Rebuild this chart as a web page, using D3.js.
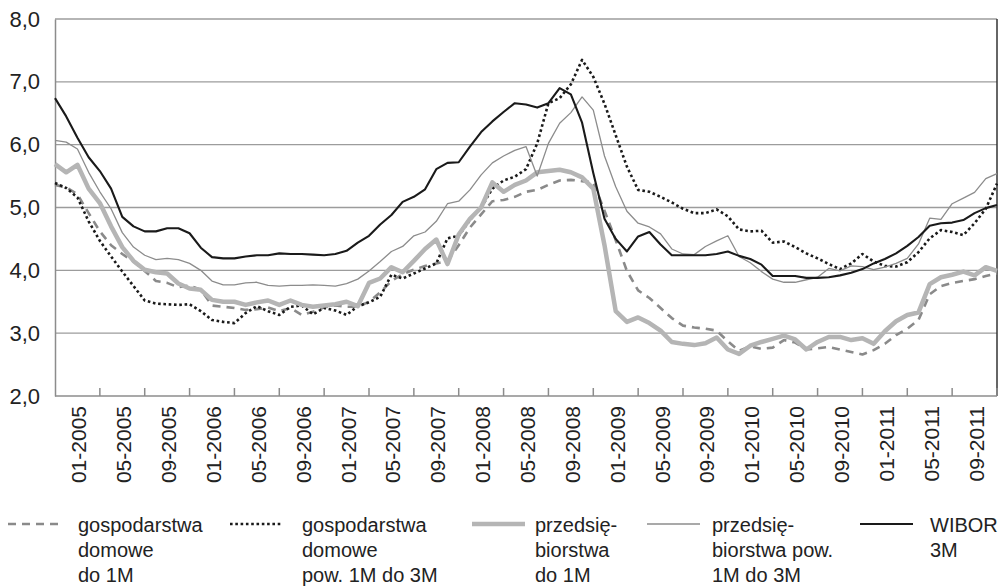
<!DOCTYPE html>
<html>
<head>
<meta charset="utf-8">
<script src="https://cdn.jsdelivr.net/npm/d3@7/dist/d3.min.js"></script>
<style>
  html, body { margin: 0; padding: 0; background: #fff; }
  svg { display: block; }
  text { font-family: "Liberation Sans", Arial, sans-serif; fill: #222; }
</style>
</head>
<body>
<svg id="chart" width="1000" height="586"></svg>
<script>
// Monthly interest rates, 11-2004 .. 11-2011 (%)
const months = [];
for (let i = 0; i < 85; i++) {
  const m = (10 + i) % 12 + 1, yr = 2004 + Math.floor((10 + i) / 12);
  months.push((m < 10 ? "0" : "") + m + "-" + yr);
}

// gospodarstwa domowe do 1M
const hhTo1M = [5.36,5.32,5.21,4.91,4.62,4.40,4.26,4.14,3.99,3.83,3.80,3.73,3.76,3.69,3.44,3.42,3.40,3.37,3.38,3.41,
  3.35,3.40,3.29,3.34,3.41,3.44,3.42,3.42,3.50,3.65,3.83,3.94,4.01,4.07,4.11,4.15,4.40,4.68,4.89,5.10,
  5.12,5.17,5.25,5.28,5.36,5.43,5.44,5.42,5.40,4.95,4.48,3.99,3.68,3.56,3.40,3.24,3.12,3.09,3.07,3.04,
  2.87,2.72,2.79,2.75,2.77,2.89,2.85,2.74,2.76,2.78,2.74,2.70,2.66,2.73,2.83,2.97,3.07,3.21,3.62,3.75,
  3.80,3.83,3.86,3.91,3.95];

// gospodarstwa domowe pow. 1M do 3M
const hh1to3M = [5.39,5.31,5.16,4.78,4.47,4.22,3.98,3.75,3.52,3.47,3.46,3.45,3.46,3.35,3.21,3.18,3.16,3.32,3.43,3.35,
  3.29,3.42,3.44,3.30,3.40,3.36,3.29,3.43,3.49,3.58,3.93,3.87,3.95,4.03,4.11,4.51,4.55,4.80,5.00,5.30,
  5.43,5.49,5.61,6.02,6.66,6.74,6.96,7.35,7.08,6.65,6.15,5.65,5.28,5.25,5.17,5.08,4.98,4.91,4.91,4.97,
  4.86,4.65,4.62,4.63,4.44,4.46,4.37,4.27,4.19,4.10,4.02,4.11,4.26,4.14,4.07,4.06,4.13,4.29,4.51,4.64,
  4.61,4.56,4.75,4.98,5.38];

// przedsiębiorstwa do 1M
const corpTo1M = [5.69,5.56,5.68,5.30,5.07,4.70,4.37,4.15,4.01,3.97,3.95,3.79,3.71,3.69,3.53,3.50,3.50,3.45,3.49,3.52,
  3.45,3.52,3.45,3.42,3.44,3.46,3.50,3.43,3.80,3.87,4.05,3.97,4.15,4.34,4.49,4.10,4.57,4.82,5.00,5.40,
  5.25,5.36,5.43,5.56,5.58,5.60,5.56,5.48,5.30,4.40,3.35,3.18,3.25,3.16,3.04,2.86,2.83,2.81,2.84,2.93,
  2.74,2.67,2.80,2.86,2.91,2.96,2.90,2.74,2.86,2.94,2.94,2.89,2.92,2.83,3.03,3.19,3.29,3.33,3.78,3.89,
  3.93,3.98,3.92,4.05,3.99];

// przedsiębiorstwa pow. 1M do 3M
const corp1to3M = [6.07,6.04,5.93,5.56,5.25,4.98,4.60,4.37,4.24,4.17,4.19,4.17,4.11,4.00,3.83,3.77,3.77,3.80,3.81,3.76,
  3.75,3.76,3.76,3.77,3.76,3.75,3.79,3.86,3.99,4.14,4.30,4.38,4.55,4.61,4.78,5.06,5.10,5.28,5.52,5.71,
  5.82,5.91,5.97,5.50,6.02,6.34,6.51,6.76,6.55,5.82,5.33,4.94,4.75,4.69,4.58,4.34,4.26,4.25,4.38,4.47,
  4.55,4.22,4.12,3.98,3.86,3.81,3.81,3.85,3.89,4.03,3.99,4.07,4.06,4.01,4.05,4.11,4.19,4.42,4.83,4.81,
  5.06,5.15,5.24,5.46,5.54];

// WIBOR 3M
const wibor3M = [6.74,6.45,6.11,5.80,5.58,5.30,4.85,4.70,4.62,4.62,4.67,4.67,4.59,4.36,4.21,4.19,4.19,4.22,4.24,4.24,
  4.27,4.26,4.26,4.25,4.24,4.26,4.31,4.44,4.55,4.73,4.88,5.09,5.17,5.29,5.61,5.71,5.72,5.97,6.20,6.37,
  6.52,6.66,6.64,6.59,6.66,6.90,6.80,6.35,5.55,4.82,4.50,4.30,4.54,4.61,4.41,4.24,4.24,4.24,4.24,4.26,
  4.30,4.23,4.18,4.09,3.91,3.91,3.91,3.88,3.88,3.89,3.92,3.96,4.02,4.11,4.18,4.27,4.39,4.53,4.71,4.75,
  4.76,4.80,4.91,4.99,5.04];

const yTicks = [2, 3, 4, 5, 6, 7, 8];
const labelEvery = 4;

const series = [
  { name: ["gospodarstwa", "domowe", "do 1M"], values: hhTo1M,
    stroke: "#8a8a8a", width: 2.6, dash: "8,6", legendX: 8, textX: 78 },
  { name: ["gospodarstwa", "domowe", "pow. 1M do 3M"], values: hh1to3M,
    stroke: "#1a1a1a", width: 2.6, dash: "2.6,2.7", legendX: 230, textX: 302 },
  { name: ["przedsię-", "biorstwa", "do 1M"], values: corpTo1M,
    stroke: "#b5b5b5", width: 4.5, dash: null, legendX: 472, textX: 535 },
  { name: ["przedsię-", "biorstwa pow.", "1M do 3M"], values: corp1to3M,
    stroke: "#8c8c8c", width: 1.3, dash: null, legendX: 647, textX: 712 },
  { name: ["WIBOR", "3M"], values: wibor3M,
    stroke: "#1a1a1a", width: 2.1, dash: null, legendX: 860, textX: 930 }
];

const svg = d3.select("#chart");
const plotL = 55, plotR = 997, plotT = 19, plotB = 396;

const x = d3.scaleLinear().domain([0, months.length - 1]).range([plotL, plotR]);
const y = d3.scaleLinear().domain([2, 8]).range([plotB, plotT]);

// horizontal gridlines
svg.append("g").selectAll("line")
  .data(yTicks.filter(v => v > 2))
  .join("line")
  .attr("x1", plotL).attr("x2", plotR)
  .attr("y1", d => y(d)).attr("y2", d => y(d))
  .attr("stroke", "#9c9c9c").attr("stroke-width", 1.4);

// y axis
const yAxis = d3.axisLeft(y).tickValues(yTicks).tickSize(0).tickPadding(15)
  .tickFormat(d => d3.format(".1f")(d).replace(".", ","));
const gy = svg.append("g").attr("transform", `translate(${plotL},0)`).call(yAxis);
gy.select(".domain").attr("stroke", "#8c8c8c").attr("stroke-width", 1.5);
gy.selectAll("text").attr("font-size", 22).attr("fill", "#222")
  .style("font-family", '"Liberation Sans", Arial, sans-serif');

// right frame edge
svg.append("line")
  .attr("x1", plotR).attr("x2", plotR).attr("y1", plotT).attr("y2", plotB)
  .attr("stroke", "#333").attr("stroke-width", 1.5);

// x axis: ticks at every 4th month boundary, labels centred between them
const tickIdx = d3.range(labelEvery, months.length, labelEvery);
const gx = svg.append("g");
gx.append("line").attr("x1", plotL).attr("x2", plotR).attr("y1", plotB).attr("y2", plotB)
  .attr("stroke", "#8c8c8c").attr("stroke-width", 1.5);
gx.selectAll("line.tick").data(tickIdx).join("line").attr("class", "tick")
  .attr("x1", d => x(d)).attr("x2", d => x(d))
  .attr("y1", plotB).attr("y2", plotB - 8)
  .attr("stroke", "#8c8c8c").attr("stroke-width", 1.5);
const labelIdx = d3.range(2, months.length, labelEvery);
gx.selectAll("text").data(labelIdx).join("text")
  .attr("transform", d => `translate(${x(d) + 9},${plotB + 10}) rotate(-90)`)
  .attr("text-anchor", "end")
  .attr("font-size", 21)
  .text(d => months[d]);

// series lines
const line = d3.line().x((d, i) => x(i)).y(d => y(d));
svg.append("g").selectAll("path")
  .data(series)
  .join("path")
  .attr("fill", "none")
  .attr("stroke", d => d.stroke)
  .attr("stroke-width", d => d.width)
  .attr("stroke-dasharray", d => d.dash)
  .attr("stroke-linejoin", "round")
  .attr("d", d => line(d.values));

// legend
const lg = svg.append("g");
const legendY = 524;
series.forEach(s => {
  lg.append("line")
    .attr("x1", s.legendX).attr("x2", s.legendX + 53)
    .attr("y1", legendY).attr("y2", legendY)
    .attr("stroke", s.stroke).attr("stroke-width", s.width)
    .attr("stroke-dasharray", s.dash);
  const t = lg.append("text").attr("x", s.textX).attr("y", 531.5).attr("font-size", 20);
  s.name.forEach((n, k) => {
    t.append("tspan").attr("x", s.textX).attr("dy", k === 0 ? 0 : 25).text(n);
  });
});
</script>
</body>
</html>
